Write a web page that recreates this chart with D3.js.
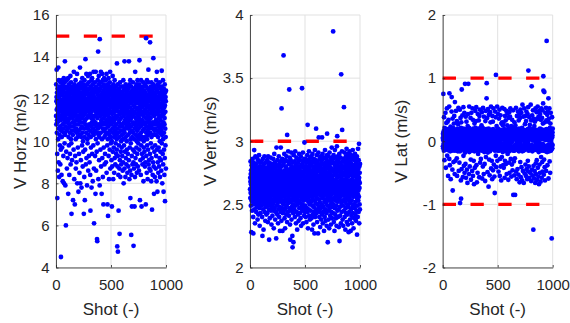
<!DOCTYPE html>
<html><head><meta charset="utf-8">
<script src="https://cdn.jsdelivr.net/npm/d3@7"></script>
<style>body{margin:0;background:#fff} svg{display:block}</style>
</head><body><svg id="c" width="570" height="323"></svg>
<script>
// V Horz (m/s) for shots 1..1000
const vHorz = [
11.2,12.7,10.8,11.9,12.1,13.4,11.5,10.4,12.3,11.0,9.4,7.3,11.8,12.5,10.9,11.6,8.6,12.0,11.3,10.1,13.5,11.7,12.2,9.0,11.4,12.9,10.6,11.1,8.3,12.4,11.8,10.3,11.6,12.6,9.8,11.2,12.0,10.7,8.9,11.5,12.8,11.0,9.6,12.2,4.5,11.9,10.5,12.3,11.4,8.4,
11.7,12.5,10.2,11.1,12.9,9.7,11.6,12.2,10.8,11.4,8.1,12.7,11.9,10.6,11.3,12.4,9.3,11.8,12.0,10.4,13.0,11.2,8.0,12.6,11.5,10.9,12.1,9.9,11.7,12.8,13.8,11.0,10.3,12.3,7.9,11.6,12.0,10.7,11.4,6.0,12.5,11.1,9.5,11.9,12.2,10.5,11.3,12.9,8.7,11.8,
12.1,10.9,11.5,12.6,9.2,11.3,12.3,10.6,11.8,13.0,7.5,11.0,12.4,10.2,11.7,12.0,9.8,11.4,12.7,10.8,8.4,11.6,12.2,11.1,10.4,12.5,9.4,11.9,12.1,10.7,13.1,11.2,8.9,12.3,11.5,10.1,12.8,11.7,9.9,11.3,6.55,12.0,10.5,11.8,12.4,9.1,11.4,12.6,10.9,11.6,
11.1,12.3,10.3,11.8,7.2,12.5,11.4,10.7,12.1,9.6,11.9,13.3,10.9,11.5,12.2,8.2,11.2,12.7,10.5,11.7,7.0,12.0,11.3,9.3,12.4,10.8,11.6,12.9,10.1,8.7,11.9,12.2,11.0,10.6,12.6,9.0,11.4,12.1,10.4,11.8,13.2,11.2,8.0,12.5,11.6,10.2,12.3,11.0,9.7,11.7,
12.0,10.8,11.5,7.6,12.4,11.2,10.5,12.7,9.4,11.9,12.2,11.0,8.5,12.6,11.4,10.3,11.8,13.5,10.9,12.1,8.0,11.6,12.3,10.6,11.3,9.1,12.8,11.7,10.2,12.0,11.5,7.8,12.5,11.1,10.7,12.2,9.8,11.8,13.0,10.4,11.4,12.6,8.8,11.9,10.0,12.3,11.2,9.5,12.7,11.6,
10.9,12.1,6.55,11.5,12.4,10.6,8.3,11.8,12.9,10.2,11.3,7.2,12.2,11.0,9.6,12.6,11.7,13.9,10.8,12.0,8.9,11.4,12.5,10.4,11.9,13.2,9.2,11.6,12.3,10.7,11.1,7.9,12.7,11.8,10.1,12.0,9.9,11.5,12.4,10.6,13.1,11.2,8.6,12.2,11.7,10.3,12.8,11.4,9.3,12.1,
11.6,10.8,12.5,11.9,9.0,12.2,11.3,10.5,13.2,11.7,8.4,12.0,6.7,11.5,12.6,10.2,11.8,9.7,12.3,11.1,10.7,12.9,7.8,11.4,12.1,10.9,11.7,13.0,9.4,12.4,11.2,10.4,12.7,8.1,11.9,12.2,10.6,11.6,9.8,12.5,11.0,13.3,10.3,12.0,8.7,6.1,11.8,12.3,10.8,11.5,
12.1,10.5,11.7,12.8,9.3,11.2,12.4,10.9,7.5,11.9,13.3,11.4,10.1,12.6,8.6,11.6,12.0,10.7,11.3,9.5,12.3,11.8,5.35,10.4,5.25,12.5,11.1,9.9,12.9,11.5,10.6,12.2,14.26,11.7,8.2,12.0,10.3,11.4,13.1,10.8,12.7,9.1,11.9,12.4,10.2,11.6,7.9,14.85,11.3,12.1,
10.7,12.5,11.2,9.6,12.8,11.8,10.4,13.3,11.5,8.8,12.2,11.0,10.9,12.6,7.5,11.7,12.0,10.1,11.4,13.2,9.2,12.3,11.6,10.6,12.9,8.3,11.9,12.1,10.8,11.3,7.0,12.4,11.1,9.7,12.7,10.5,11.8,13.0,10.2,12.0,8.9,11.5,12.5,10.9,11.2,9.4,12.2,11.7,10.3,12.6,
11.4,10.6,12.9,9.0,11.9,12.3,10.8,11.6,13.2,8.5,12.1,11.0,10.4,12.5,11.7,9.8,12.0,7.0,11.3,12.7,10.1,11.8,6.45,12.4,11.2,10.7,13.0,9.3,11.5,12.2,10.9,8.2,12.6,11.4,10.3,12.0,11.9,9.6,12.8,11.1,10.5,13.3,11.7,8.7,12.3,11.0,10.2,12.5,9.9,11.6,
12.2,10.8,11.4,9.1,12.6,11.7,10.0,6.9,12.0,11.3,8.8,12.4,10.6,11.8,13.1,9.5,11.1,12.3,10.4,8.2,11.9,12.7,10.9,11.5,9.7,12.1,10.2,11.6,8.5,12.5,11.0,10.7,12.9,9.2,11.4,12.2,10.5,11.8,8.9,12.0,11.2,9.9,12.6,10.3,11.7,12.4,9.4,11.1,10.8,12.1,
11.5,10.1,9.6,13.7,11.9,12.3,5.0,10.6,8.8,11.2,12.7,9.3,4.75,11.6,10.4,12.0,8.4,11.4,6.7,12.5,10.9,9.8,11.8,12.2,10.2,8.7,11.0,5.6,12.4,11.7,9.1,10.7,12.8,11.3,8.3,12.1,10.5,11.9,9.5,12.6,11.1,10.0,8.9,12.3,11.5,10.8,9.7,12.0,11.6,10.3,
12.2,9.3,11.4,10.7,12.6,8.6,11.8,12.0,10.1,9.0,11.5,12.9,10.5,11.2,8.0,12.4,11.7,9.8,10.9,12.1,11.3,8.7,13.8,10.4,11.9,12.5,9.5,11.0,10.6,12.2,8.3,11.6,12.7,10.2,9.2,11.4,12.0,10.8,11.8,8.9,12.3,11.1,10.0,9.6,12.6,11.5,10.7,12.1,8.5,11.3,
12.4,10.9,9.4,11.7,12.0,10.3,8.8,12.5,11.2,10.6,11.9,9.1,13.8,12.2,10.8,11.4,8.2,12.7,11.0,9.7,10.4,12.1,11.6,8.6,12.9,7.3,11.3,10.1,12.3,9.9,11.8,10.7,12.6,5.55,11.1,8.4,12.0,10.5,9.3,6.9,11.5,12.4,10.2,11.9,8.9,12.2,11.4,10.9,9.6,12.8,
11.2,10.4,12.1,9.0,5.03,11.7,12.5,10.8,8.7,11.4,12.3,10.1,9.5,6.9,11.9,12.0,10.6,8.3,11.6,13.3,10.9,12.2,9.2,11.1,12.6,10.3,8.9,11.8,12.4,10.7,9.7,11.3,12.7,10.0,8.5,11.5,12.1,10.5,9.4,11.9,12.9,10.2,11.0,8.8,12.3,11.6,10.8,9.9,12.5,11.2,
10.6,12.0,11.4,8.6,12.7,11.1,10.3,9.6,13.85,11.8,12.2,10.9,7.2,11.5,12.6,10.1,9.1,11.7,12.4,10.7,8.4,11.3,12.9,10.4,9.8,11.9,12.1,6.9,10.8,11.6,12.5,9.4,11.0,10.2,12.3,8.9,11.8,12.0,10.5,9.2,11.4,12.8,10.9,11.2,8.1,12.6,11.7,10.0,9.7,12.2,
11.3,10.6,12.4,9.5,11.9,12.1,10.8,8.8,11.5,12.7,10.2,9.0,11.7,12.3,10.9,7.0,11.1,12.6,14.9,10.4,9.3,11.8,12.0,10.7,8.5,11.4,12.9,10.1,9.8,11.6,12.2,10.5,8.2,11.2,12.5,11.9,9.6,10.3,12.8,13.4,11.0,8.9,12.1,10.9,9.1,11.7,12.4,10.6,11.3,8.7,
12.0,10.8,11.5,9.4,14.7,12.3,10.4,11.9,8.6,12.6,11.1,9.9,10.7,12.2,11.6,8.1,12.8,10.2,9.2,11.4,12.5,11.8,6.75,10.9,12.1,9.7,11.3,12.4,8.4,10.6,11.7,12.0,9.0,10.3,13.95,11.5,12.7,8.8,10.8,11.9,7.5,12.3,11.2,9.5,10.5,12.6,11.6,8.3,12.1,10.9,
11.4,9.8,12.2,10.6,11.8,8.7,12.5,11.0,10.3,9.3,12.9,11.6,10.8,8.1,12.0,11.3,13.3,9.6,10.5,12.4,11.7,7.6,12.1,10.9,9.0,11.5,12.7,10.2,11.9,8.5,12.3,11.1,9.7,10.7,12.6,11.4,8.8,12.0,10.4,11.8,9.2,12.8,11.2,10.0,8.3,12.2,11.6,10.6,9.5,12.5,
11.0,10.8,12.3,9.1,11.7,12.0,8.6,10.5,11.4,12.6,13.35,9.9,11.2,10.3,12.1,8.0,11.8,12.4,10.7,9.4,11.5,12.9,10.1,8.9,11.9,12.2,10.9,7.6,11.3,12.5,10.4,9.6,11.6,12.0,8.4,10.8,11.1,12.7,9.2,11.7,7.15,12.3,10.6,11.4,9.8,12.1,10.2,11.9,8.7,12.4
];
// V Vert (m/s) for shots 1..1000
const vVert = [
2.62,2.71,2.55,2.68,2.84,2.59,2.74,2.49,2.66,2.77,2.60,2.28,2.70,2.53,2.81,2.64,2.57,2.73,2.45,2.67,2.79,2.61,2.52,2.86,2.69,2.58,2.75,2.63,2.40,2.27,2.72,2.56,2.83,2.65,2.50,2.78,2.62,2.93,2.54,2.70,2.46,2.68,2.80,2.59,2.35,2.74,2.61,2.57,2.88,2.66,
2.58,2.73,2.64,2.51,2.82,2.69,2.44,2.76,2.60,2.67,2.55,2.87,2.63,2.48,2.71,2.79,2.57,2.66,2.38,2.74,2.61,2.53,2.85,2.68,2.59,2.42,2.77,2.65,2.50,2.72,2.62,2.89,2.56,2.70,2.47,2.80,2.64,2.33,2.75,2.60,2.54,2.83,2.67,2.58,2.43,2.73,2.69,2.52,2.78,2.63,
2.71,2.57,2.66,2.84,2.49,2.62,2.75,2.55,2.68,2.40,2.80,2.61,2.25,2.73,2.58,2.86,2.64,2.52,2.70,2.46,2.77,2.63,2.30,2.69,2.56,2.82,2.60,2.74,2.50,2.67,2.88,2.59,2.44,2.72,2.65,2.53,2.79,2.62,2.37,2.76,2.57,2.68,2.48,2.83,2.61,2.71,2.54,2.66,2.42,2.78,
2.60,2.74,2.51,2.67,2.85,2.58,2.43,2.70,2.63,2.79,2.55,2.36,2.72,2.64,2.88,2.49,2.68,2.59,2.76,2.53,2.65,2.81,2.46,2.22,2.71,2.61,2.57,2.83,2.66,2.39,2.74,2.62,2.50,2.78,2.69,2.56,2.87,2.60,2.45,2.73,2.64,2.52,2.80,2.67,2.34,2.75,2.58,2.63,2.48,2.70,
2.77,2.54,2.66,2.41,2.82,2.61,2.70,2.50,2.74,2.59,2.86,2.65,2.45,2.72,2.57,2.31,2.79,2.63,2.68,2.52,2.90,2.60,2.47,2.75,2.64,2.56,2.83,2.69,2.38,2.71,2.62,2.53,2.78,2.66,2.44,2.73,2.58,2.23,2.81,2.67,2.95,2.61,2.49,2.76,2.64,2.55,2.70,2.42,2.85,2.60,
2.68,2.51,2.74,2.63,2.35,2.80,2.57,2.69,2.46,2.77,2.62,2.88,2.54,2.71,2.40,2.66,2.82,2.59,2.73,2.48,2.65,2.29,2.78,2.61,2.55,2.84,2.70,2.44,2.67,2.95,2.58,2.75,2.52,2.64,2.80,2.37,3.26,2.69,2.56,2.72,2.47,2.63,2.86,2.60,2.29,2.76,2.53,2.68,2.43,2.81,
2.62,2.74,2.50,2.67,3.68,2.59,2.83,2.45,2.71,2.64,2.56,2.90,2.66,2.39,2.77,2.61,2.52,2.73,2.31,2.69,2.85,2.58,2.47,2.75,2.63,2.54,2.80,2.68,2.42,2.72,2.60,2.88,2.49,2.65,2.57,2.78,2.36,3.05,2.70,2.62,2.53,2.84,2.66,2.44,2.74,2.59,2.92,2.51,2.68,2.63,
2.76,2.55,2.64,2.41,2.82,2.69,3.41,2.58,2.73,2.47,2.66,2.87,2.60,2.34,2.71,2.22,2.78,2.62,2.52,2.85,2.67,2.45,2.74,2.57,2.91,2.63,2.38,2.80,2.70,2.54,2.65,2.48,2.77,2.59,2.25,2.72,2.16,2.83,2.61,2.50,2.68,2.43,2.75,2.64,2.20,2.79,2.56,2.89,2.66,2.53,
2.71,2.60,2.46,2.84,2.65,2.57,2.77,2.40,2.69,2.62,2.92,2.54,2.73,2.49,2.66,2.81,2.58,2.35,2.75,2.63,2.52,2.87,2.68,2.44,2.72,2.61,2.79,2.55,2.30,2.70,2.64,2.86,2.50,2.76,2.59,2.42,2.83,2.67,2.56,2.74,2.62,2.37,2.80,2.69,2.53,2.90,2.65,2.47,2.73,2.60,
2.58,2.78,2.66,2.43,2.85,2.62,2.51,2.74,2.39,2.70,2.64,2.88,2.56,2.72,2.33,2.67,2.81,2.59,2.48,2.76,2.63,2.54,3.42,2.69,2.45,2.82,2.61,2.73,2.50,2.66,2.91,2.57,2.35,2.79,2.68,2.60,2.47,2.84,2.65,2.53,2.75,2.41,2.86,2.62,2.99,2.56,2.71,2.44,2.80,2.67,
2.63,2.49,2.77,2.58,2.86,2.68,2.40,2.72,2.61,2.54,2.83,2.66,2.36,2.75,2.60,2.47,2.80,2.69,2.55,2.89,2.64,2.44,2.73,3.13,2.57,2.67,2.31,2.78,2.62,2.52,2.85,2.70,2.46,2.74,2.59,2.92,2.65,2.41,2.79,2.56,2.68,2.50,2.82,2.63,2.38,2.76,2.61,2.87,2.53,2.71,
2.66,2.45,2.81,2.60,2.74,2.52,2.88,2.67,2.39,2.72,2.58,2.84,2.64,2.30,2.77,2.62,2.49,2.90,2.69,2.55,2.75,2.42,2.83,2.61,2.57,2.79,2.34,2.70,2.65,2.48,2.86,2.59,2.73,2.44,2.68,2.27,2.80,2.63,2.53,2.93,2.66,2.40,2.76,2.60,2.51,2.85,2.71,2.46,2.78,2.64,
3.10,2.57,2.74,2.43,2.82,2.67,2.55,2.89,2.62,2.36,2.76,2.69,2.50,2.84,2.60,2.45,2.79,2.65,2.27,2.72,2.58,2.91,2.63,2.48,3.03,2.70,2.54,2.81,2.66,2.40,2.77,2.61,2.86,2.52,2.73,2.44,2.68,2.32,2.80,2.64,2.57,2.88,2.71,2.47,2.75,2.62,2.38,2.83,2.59,2.69,
2.74,2.50,2.85,2.63,3.03,2.42,2.78,2.67,2.55,2.90,2.61,2.35,2.72,2.66,2.48,2.82,2.59,2.76,2.44,2.69,2.87,2.57,2.29,2.73,2.64,2.52,2.80,2.68,2.40,2.77,2.60,2.93,2.54,2.71,2.46,2.83,2.65,2.37,2.75,2.62,2.51,2.86,2.70,2.43,2.79,2.58,2.33,2.74,2.66,2.89,
3.06,2.63,2.49,2.81,2.67,2.56,2.20,2.75,2.61,2.88,2.45,2.72,2.58,2.38,2.84,2.69,2.53,2.78,2.64,2.31,2.76,2.60,2.91,2.47,2.70,2.55,2.82,2.66,2.41,2.74,2.62,2.87,2.50,2.79,2.57,2.34,2.73,2.68,2.44,2.85,2.63,2.52,2.95,2.71,2.39,2.77,2.59,2.48,2.83,2.65,
2.70,2.54,2.86,2.62,2.43,3.87,2.76,2.66,2.50,2.89,2.60,2.36,2.73,2.67,2.55,2.82,2.63,2.29,2.78,2.69,2.47,2.93,2.58,2.74,2.42,2.80,2.65,2.53,2.87,2.61,2.39,2.75,2.68,2.49,2.84,2.64,2.33,2.77,2.59,2.96,2.56,2.71,3.04,2.45,2.81,2.66,2.52,2.88,2.62,2.40,
2.73,2.57,2.85,2.64,2.46,2.79,2.68,2.32,2.76,2.61,2.54,2.90,2.67,2.21,2.72,2.59,2.48,2.83,2.63,2.41,2.77,2.69,2.56,2.87,2.60,2.35,2.74,2.66,3.53,2.51,2.81,2.64,2.44,2.78,2.58,2.92,2.70,3.09,2.53,2.75,2.62,2.38,2.84,2.67,2.49,2.80,2.61,2.33,2.73,2.65,
2.57,2.86,2.63,3.27,2.45,2.79,2.68,2.54,2.91,2.60,2.40,2.75,2.66,2.52,2.83,2.62,2.30,2.77,2.70,2.47,2.88,2.58,2.73,2.43,2.81,2.64,2.55,2.94,2.67,2.36,2.76,2.61,2.50,2.85,2.69,2.42,2.79,2.59,2.90,2.65,2.34,2.72,2.63,2.48,2.82,2.57,2.28,2.74,2.68,2.53,
2.87,2.62,2.44,2.78,2.66,2.55,2.92,2.60,2.38,2.75,2.69,2.51,2.84,2.64,2.29,2.80,2.58,2.46,2.89,2.67,2.73,2.41,2.82,2.61,2.53,2.77,2.65,2.35,2.86,2.70,2.48,2.79,2.59,2.93,2.63,2.43,2.74,2.68,2.56,2.88,2.31,2.72,2.62,2.50,2.81,2.66,2.39,2.76,2.60,2.85,
2.64,2.47,2.79,2.57,2.90,2.68,2.42,2.74,2.61,2.52,2.86,2.66,2.37,2.77,2.59,2.83,2.63,2.45,2.72,2.70,2.55,2.88,2.26,2.76,2.62,2.49,2.81,2.67,2.40,2.73,2.58,2.94,2.65,2.53,2.78,2.61,2.44,2.85,2.69,2.56,2.98,2.71,2.35,2.80,2.63,2.50,2.75,2.67,2.46,2.82
];
// V Lat (m/s) for shots 1..1000
const vLat = [
0.05,-0.08,0.12,0.02,-0.11,0.75,0.09,-0.04,0.16,0.11,-0.15,0.38,0.01,-0.06,0.14,-0.30,0.21,0.06,-0.10,0.03,-0.02,0.12,-0.13,0.08,0.45,-0.05,0.17,0.03,-0.42,0.19,-0.06,0.10,0.29,-0.12,0.04,-0.01,0.15,0.52,-0.01,0.19,-0.23,0.07,0.13,-0.09,0.31,-0.14,0.00,0.07,-0.55,0.10,
0.16,-0.05,0.34,-0.12,0.08,0.02,-0.13,0.11,0.55,-0.28,0.76,0.11,-0.07,0.20,-0.38,0.04,0.14,-0.16,0.06,0.09,-0.03,0.23,-0.60,0.13,-0.11,0.03,0.06,-0.09,0.18,-0.01,0.47,0.70,-0.15,0.10,0.05,-0.08,0.03,-0.45,0.15,0.36,-0.78,0.07,-0.14,0.21,0.12,-0.04,0.12,-0.33,0.19,0.01,
-0.10,0.28,0.05,-0.14,0.40,0.13,-0.06,0.17,-0.52,0.09,0.62,-0.15,0.10,0.02,-0.31,0.11,0.06,-0.02,0.16,-0.12,0.48,0.07,-0.04,0.14,-0.09,0.14,0.03,-0.27,0.32,0.10,-0.55,0.20,-0.05,0.06,0.18,-0.12,0.08,-0.16,0.01,0.27,-0.11,0.12,0.53,-0.07,0.08,-0.47,0.03,0.04,-0.08,0.15,
0.09,-0.34,0.16,-0.03,0.13,0.50,-0.16,-0.98,0.19,0.05,-0.10,0.37,-0.08,0.11,-0.62,0.21,-0.91,0.02,0.30,-0.13,0.06,-0.44,0.82,0.07,-0.12,0.15,0.12,-0.05,0.41,-0.06,0.18,0.03,-0.57,0.14,0.08,-0.10,0.08,0.54,-0.23,0.20,-0.02,0.11,-0.39,0.10,0.06,-0.15,0.45,0.17,-0.50,0.04,
-0.07,0.12,0.91,-0.18,0.07,0.04,-0.36,0.15,0.39,-0.11,0.09,-0.58,0.13,0.01,-0.06,0.31,0.14,-0.04,0.19,-0.45,0.19,0.06,-0.14,0.05,-0.66,0.10,0.24,-0.09,0.02,0.43,-0.12,0.17,0.91,-0.02,0.08,0.08,-0.06,0.13,-0.52,0.21,0.55,-0.17,0.05,0.12,-0.03,-0.40,0.16,0.11,-0.14,0.06,
0.03,-0.13,0.37,0.09,-0.29,0.18,-0.61,0.12,0.06,-0.08,0.45,-0.09,0.13,0.09,-0.15,0.01,0.16,-0.47,0.05,-0.04,0.52,0.10,-0.12,0.34,-0.55,0.07,0.20,-0.12,0.11,-0.01,0.14,-0.31,0.07,0.05,-0.68,0.19,0.11,-0.16,0.28,-0.06,0.03,-0.42,0.08,0.10,-0.05,0.15,0.48,-0.10,0.02,0.21,
-0.10,0.32,0.12,-0.05,0.54,-0.38,0.17,0.04,-0.14,0.06,-0.65,0.09,0.16,-0.13,0.14,0.01,-0.50,0.12,0.43,-0.09,0.18,-0.20,0.07,0.08,-0.16,0.11,-0.04,0.33,0.03,-0.02,0.20,-0.57,0.13,0.40,-0.07,0.06,0.04,-0.11,0.50,-0.34,0.15,0.08,-0.09,0.21,-0.04,0.19,-0.28,0.10,0.07,-0.07,
0.14,-0.13,0.25,0.05,-0.15,0.46,-0.02,0.18,-0.59,0.11,0.04,-0.14,0.08,0.21,-0.40,0.02,0.53,-0.10,0.16,-0.08,0.09,0.06,-0.52,0.13,0.39,-0.06,0.12,-0.17,0.10,0.04,-0.36,0.03,0.16,-0.12,0.17,-0.63,0.07,0.32,-0.11,0.12,-0.03,0.48,-0.25,0.19,0.09,-0.14,0.15,0.01,0.68,0.92,
0.04,-0.06,0.19,0.37,-0.08,0.13,-0.49,0.14,0.06,-0.18,0.51,-0.02,0.15,-0.15,0.08,0.09,-0.72,0.20,-0.11,0.42,0.02,-0.29,0.16,0.13,-0.05,0.11,-0.54,0.05,0.07,-0.16,0.46,-0.08,0.14,0.01,0.30,-0.12,0.18,-0.09,0.55,-0.43,0.10,0.03,-0.13,0.05,0.16,-0.31,0.17,-0.01,0.07,-0.60,
0.12,0.40,-0.10,0.08,-0.04,0.31,-0.46,0.19,0.03,-0.07,0.52,0.14,-0.12,0.04,-0.37,0.06,0.15,-0.07,0.17,-0.56,0.12,0.01,-0.82,0.09,-0.15,0.10,0.47,-0.13,0.15,0.05,-0.02,0.38,-0.23,1.05,0.09,-0.41,0.11,0.13,-0.10,0.24,-0.06,0.04,0.16,-0.08,0.55,0.11,-0.31,0.18,-0.06,0.02,
0.07,-0.15,0.20,0.43,-0.12,0.14,-0.48,0.02,0.08,-0.08,0.36,-0.15,0.16,0.09,-0.09,0.50,-0.03,0.13,-0.55,0.11,0.05,-0.28,0.03,0.18,-0.14,0.41,-0.40,0.12,0.01,-0.06,0.17,-0.62,0.15,0.28,-0.11,0.08,0.12,-0.25,0.04,0.30,-0.11,0.53,-0.12,0.07,0.06,-0.17,0.25,-0.04,0.15,-0.38,
0.13,0.29,-0.09,0.04,-0.42,0.06,0.10,-0.12,0.19,0.51,-0.15,0.02,-0.58,0.14,0.08,-0.31,0.40,-0.05,0.16,-0.07,0.11,0.33,-0.13,0.06,-0.36,0.07,0.12,-0.01,0.48,-0.16,0.15,-0.52,0.03,0.05,-0.08,0.09,0.25,-0.07,0.44,-0.20,0.18,0.01,-0.14,0.10,0.11,-0.61,0.20,0.05,-0.10,0.37,
-0.03,0.12,-0.34,0.14,0.46,-0.16,0.07,-0.50,0.08,0.02,-0.11,0.39,0.12,-0.07,0.52,-0.13,0.17,0.04,-0.28,0.11,0.09,-0.13,0.24,-0.56,0.15,0.12,-0.02,0.19,-0.37,0.06,0.34,-0.11,0.03,0.01,-0.46,0.13,0.07,-0.09,0.10,0.49,-0.15,-0.85,0.18,0.05,-0.08,0.16,-0.32,0.14,0.21,-0.54,
0.08,0.30,-0.15,0.03,0.14,-0.27,0.16,-0.85,0.11,-0.05,0.25,-0.09,0.19,0.06,-0.10,0.53,-0.48,0.13,0.02,0.05,-0.10,0.12,-0.60,0.09,0.40,-0.13,0.15,-0.01,0.08,-0.44,0.07,0.18,-0.14,0.47,-0.03,0.12,0.04,-0.53,0.06,-0.07,0.33,0.10,-0.16,0.20,-0.02,0.42,-0.08,0.14,-0.65,0.05,
0.13,-0.11,0.37,0.08,-0.33,0.15,0.50,-0.04,0.19,-0.57,0.03,0.09,-0.12,0.12,0.45,-0.41,0.17,-0.08,0.06,0.14,-0.62,0.21,0.10,-0.16,0.58,-0.09,0.14,0.01,-0.47,0.06,0.09,-0.12,0.39,-0.15,0.18,0.04,-0.66,0.04,0.13,-0.06,0.52,-0.14,0.07,0.11,-0.51,0.16,-0.03,0.27,-0.09,0.11,
0.40,-0.37,0.05,0.12,-0.13,0.14,-0.55,0.32,0.08,-0.06,0.47,0.02,-0.44,0.18,0.11,-0.09,0.16,-0.60,0.05,0.06,-0.08,0.43,0.13,-0.31,0.19,-0.02,0.54,-0.48,1.12,0.09,-0.15,0.08,-0.40,0.16,0.03,-0.13,0.38,-0.58,0.12,0.21,-0.07,0.26,-0.14,0.07,0.17,-0.50,0.10,-0.11,0.10,0.58,
-0.10,0.15,0.04,-0.63,0.33,0.09,-0.08,0.14,0.87,-0.06,0.12,-0.45,0.41,0.01,-0.16,0.08,-0.54,0.19,0.07,-0.13,0.49,0.14,-0.10,-1.40,0.12,-0.39,0.05,0.36,-0.14,0.11,-0.59,0.18,0.24,-0.08,0.06,-0.47,0.03,0.31,-0.07,0.13,-0.66,0.10,0.52,-0.02,0.09,-0.35,0.18,0.16,-0.52,0.06,
0.17,-0.14,0.10,0.46,-0.30,0.17,-0.05,0.35,-0.61,0.11,0.08,-0.12,0.55,0.12,-0.42,0.02,0.09,-0.09,0.18,-0.56,0.39,0.05,-0.17,0.14,-0.68,0.04,0.48,-0.12,0.09,-0.37,0.12,0.15,-0.03,0.20,-0.50,0.43,0.06,-0.09,0.16,-0.64,0.11,0.34,-0.07,0.19,-0.25,0.04,0.52,-0.15,0.13,-0.58,
0.12,-0.10,0.37,0.07,-0.33,0.16,0.49,-0.48,0.12,-0.04,0.28,-0.10,0.60,0.09,1.03,0.80,-0.15,0.05,-0.53,0.03,0.18,-0.29,0.10,0.78,-0.07,0.14,-0.41,0.30,0.05,-0.62,0.11,-0.12,0.45,0.10,-0.16,0.17,0.02,-0.13,0.53,-0.47,0.13,0.33,-0.09,0.19,1.59,-0.10,0.08,0.06,-0.17,0.42,
0.11,-0.38,0.14,0.05,-0.12,0.47,0.15,-0.06,0.31,0.02,0.68,-0.59,0.19,-0.05,0.36,-0.14,0.09,0.07,-0.16,0.52,0.13,-0.32,0.04,0.21,-0.08,0.10,-0.50,0.16,0.28,-0.10,0.07,0.45,-0.15,0.12,0.01,-0.14,0.13,0.18,-0.03,0.05,-1.54,0.10,-0.12,0.38,0.06,-0.11,0.09,0.14,-0.06,0.20
];

const xTicks = [0, 500, 1000];
const horzTicks = [4, 6, 8, 10, 12, 14, 16];
const vertTicks = [2, 2.5, 3, 3.5, 4];
const latTicks = [-2, -1, 0, 1, 2];
const horzLimits = [15];
const vertLimits = [3];
const latLimits = [-1, 1];
const yLabels = ["V Horz (m/s)", "V Vert (m/s)", "V Lat (m/s)"];
const xLabel = "Shot (-)";

const panels = [
  {values: vHorz, ticks: horzTicks, limits: horzLimits, label: yLabels[0], left: 56, labelOff: 30},
  {values: vVert, ticks: vertTicks, limits: vertLimits, label: yLabels[1], left: 250, labelOff: 34},
  {values: vLat, ticks: latTicks, limits: latLimits, label: yLabels[2], left: 442.7, labelOff: 36}
];

const FONT = '"Liberation Sans", Arial, Helvetica, sans-serif';
const TXT = "#262626";
const plotTop = 15, plotBottom = 267.5, plotW = 110;
const svg = d3.select("#c");

panels.forEach(p => {
  const x = d3.scaleLinear().domain([xTicks[0], xTicks[xTicks.length - 1]]).range([p.left, p.left + plotW]);
  const y = d3.scaleLinear().domain([p.ticks[0], p.ticks[p.ticks.length - 1]]).range([plotBottom, plotTop]);
  const g = svg.append("g");

  g.selectAll("line.gy").data(p.ticks).join("line").attr("class", "gy")
    .attr("x1", x.range()[0]).attr("x2", x.range()[1])
    .attr("y1", d => y(d)).attr("y2", d => y(d))
    .attr("stroke", "#e1e1e1").attr("stroke-width", 1);
  g.selectAll("line.gx").data(xTicks).join("line").attr("class", "gx")
    .attr("x1", d => x(d)).attr("x2", d => x(d))
    .attr("y1", plotTop).attr("y2", plotBottom)
    .attr("stroke", "#e1e1e1").attr("stroke-width", 1);

  g.selectAll("line.lim").data(p.limits).join("line").attr("class", "lim")
    .attr("x1", x.range()[0]).attr("x2", x.range()[1])
    .attr("y1", d => y(d)).attr("y2", d => y(d))
    .attr("stroke", "#ff0000").attr("stroke-width", 3.3)
    .attr("stroke-dasharray", "13.3,14.5");

  g.selectAll("circle").data(p.values).join("circle")
    .attr("cx", (d, i) => x(i + 1)).attr("cy", d => y(d))
    .attr("r", 2.4).attr("fill", "#0000ff");

  const ay = g.append("g").attr("transform", `translate(${p.left},0)`)
    .call(d3.axisLeft(y).tickValues(p.ticks).tickSizeInner(-2.5).tickSizeOuter(0).tickPadding(6.5).tickFormat(d => String(d)));
  const ax = g.append("g").attr("transform", `translate(0,${plotBottom})`)
    .call(d3.axisBottom(x).tickValues(xTicks).tickSizeInner(-2.5).tickSizeOuter(0).tickPadding(12.3).tickFormat(d => String(d)));
  [ay, ax].forEach(a => {
    a.attr("font-family", FONT).attr("font-size", 15).attr("color", TXT);
    a.select(".domain").attr("stroke", "#262626").attr("stroke-width", 0.8);
    a.selectAll(".tick line").attr("stroke", "#262626").attr("stroke-width", 0.8);
    a.selectAll(".tick text").attr("fill", TXT);
  });

  g.append("text")
    .attr("transform", `translate(${p.left - p.labelOff},${(plotTop + plotBottom) / 2}) rotate(-90)`)
    .attr("text-anchor", "middle").attr("font-family", FONT).attr("font-size", 17).attr("fill", TXT)
    .text(p.label);
  g.append("text")
    .attr("x", p.left + plotW / 2).attr("y", 315)
    .attr("text-anchor", "middle").attr("font-family", FONT).attr("font-size", 17).attr("fill", TXT)
    .text(xLabel);
});
</script>
</body></html>
